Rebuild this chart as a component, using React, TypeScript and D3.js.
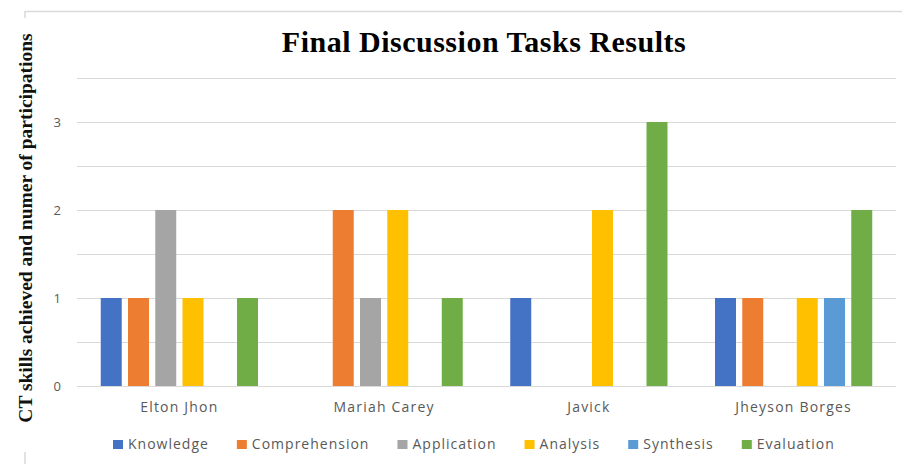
import React, { useEffect, useRef } from 'react';
import * as d3 from 'd3';

const categories = ['Elton Jhon', 'Mariah Carey', 'Javick', 'Jheyson Borges'];
const skills = ['Knowledge', 'Comprehension', 'Application', 'Analysis', 'Synthesis', 'Evaluation'];
const knowledge = [1, 0, 1, 1];
const comprehension = [1, 2, 0, 1];
const application = [2, 1, 0, 0];
const analysis = [1, 2, 2, 1];
const synthesis = [0, 0, 0, 1];
const evaluation = [1, 1, 3, 2];
const yTickLabels = [0, 1, 2, 3];
const gridValues = [0, 0.5, 1, 1.5, 2, 2.5, 3, 3.5];
const colors = ['#4472C4', '#ED7D31', '#A5A5A5', '#FFC000', '#5B9BD5', '#70AD47'];

const App = () => {
  const svgRef = useRef<SVGSVGElement>(null);

  useEffect(() => {
    const svg = d3.select(svgRef.current);
    svg.selectAll('*').remove();

    const width = 902;
    const height = 464;
    const left = 77;
    const right = 896;
    const top = 78;
    const bottom = 386;
    const series = [knowledge, comprehension, application, analysis, synthesis, evaluation];
    const rows = categories.map((c, i) => ({
      name: c,
      values: skills.map((s, j) => ({ skill: s, value: series[j][i], color: colors[j] }))
    }));

    svg.attr('width', width).attr('height', height);
    svg.append('rect').attr('width', width).attr('height', height).attr('fill', '#fff');

    // outer frame
    svg.append('path')
      .attr('d', `M25,${height} V11.5 H${width}`)
      .attr('fill', 'none')
      .attr('stroke', '#d9d9d9')
      .attr('stroke-width', 1.5);

    const x0 = d3.scaleBand().domain(categories).range([left, right])
      .paddingInner(0.232).paddingOuter(0.116);
    const x1 = d3.scaleBand().domain(skills).range([0, x0.bandwidth()]).paddingInner(0.23);
    const y = d3.scaleLinear().domain([0, 3.5]).range([bottom, top]);

    // gridlines
    svg.append('g').selectAll('line')
      .data(gridValues)
      .enter()
      .append('line')
      .attr('x1', left)
      .attr('x2', right)
      .attr('y1', d => Math.round(y(d)) + 0.5)
      .attr('y2', d => Math.round(y(d)) + 0.5)
      .attr('stroke', '#d9d9d9')
      .attr('stroke-width', 1.2);

    // y tick labels
    svg.append('g').selectAll('text')
      .data(yTickLabels)
      .enter()
      .append('text')
      .attr('x', 61)
      .attr('y', d => y(d) + 4.5)
      .attr('text-anchor', 'end')
      .style('font-family', '"Open Sans", sans-serif')
      .style('font-size', '13px')
      .style('fill', '#595959')
      .text(d => d);

    // bars
    const groups = svg.append('g').selectAll('g')
      .data(rows)
      .enter()
      .append('g')
      .attr('transform', d => `translate(${x0(d.name)},0)`);

    groups.selectAll('rect')
      .data(d => d.values.filter(v => v.value > 0))
      .enter()
      .append('rect')
      .attr('x', d => x1(d.skill)!)
      .attr('width', x1.bandwidth())
      .attr('y', d => y(d.value))
      .attr('height', d => y(0) - y(d.value))
      .style('fill', d => d.color);

    // category labels
    svg.append('g').selectAll('text')
      .data(categories)
      .enter()
      .append('text')
      .attr('x', d => x0(d)! + x0.bandwidth() / 2)
      .attr('y', 412)
      .attr('text-anchor', 'middle')
      .style('font-family', '"Open Sans", sans-serif')
      .style('font-size', '14px')
      .style('letter-spacing', '1.2px')
      .style('fill', '#595959')
      .text(d => d);

    // legend
    const legend = svg.append('g');
    let lx = 113;
    skills.forEach((s, i) => {
      legend.append('rect')
        .attr('x', lx)
        .attr('y', 440)
        .attr('width', 10)
        .attr('height', 9)
        .style('fill', colors[i]);
      const t = legend.append('text')
        .attr('x', lx + 15)
        .attr('y', 449)
        .style('font-family', '"Open Sans", sans-serif')
        .style('font-size', '14px')
        .style('letter-spacing', '1px')
        .style('fill', '#595959')
        .text(s);
      const w = (t.node() as SVGTextElement).getComputedTextLength();
      lx += 15 + w + 28;
    });

    // title
    svg.append('text')
      .attr('x', 484)
      .attr('y', 52)
      .attr('text-anchor', 'middle')
      .style('font-family', '"Liberation Serif", "Times New Roman", serif')
      .style('font-weight', 'bold')
      .style('font-size', '30px')
      .style('letter-spacing', '0.5px')
      .style('fill', '#000')
      .text('Final Discussion Tasks Results');

    // y axis title with white backing
    svg.append('rect')
      .attr('x', 8)
      .attr('y', 18)
      .attr('width', 28)
      .attr('height', 434)
      .attr('fill', '#fff');
    svg.append('text')
      .attr('transform', 'translate(32,228) rotate(-90)')
      .attr('text-anchor', 'middle')
      .style('font-family', '"Liberation Serif", "Times New Roman", serif')
      .style('font-weight', 'bold')
      .style('font-size', '19.5px')
      .style('fill', '#111')
      .text('CT skills achieved and numer of participations');
  }, []);

  return (
    <svg ref={svgRef} style={{ position: 'absolute', left: 0, top: 0, display: 'block' }}></svg>
  );
};

export default App;
